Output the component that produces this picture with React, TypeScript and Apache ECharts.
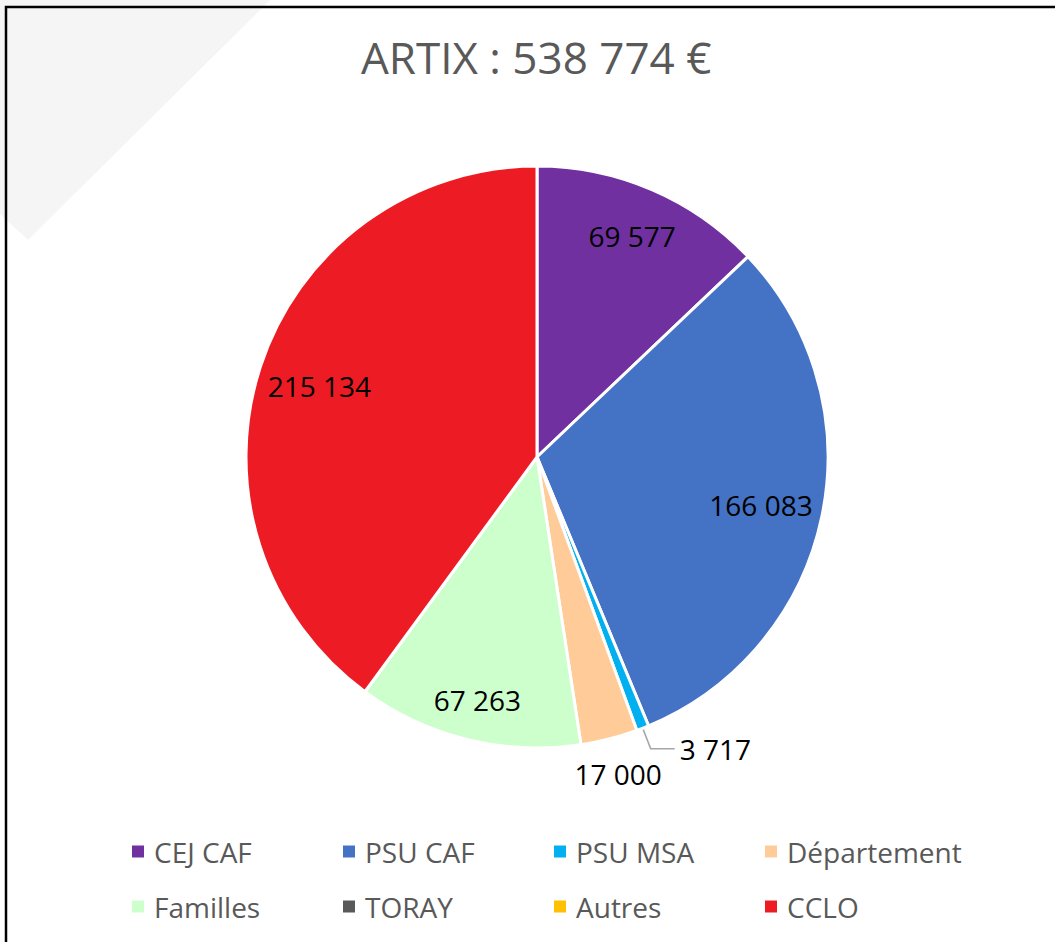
import React, { useEffect, useRef } from "react";
import * as echarts from "echarts";

const TITLE = "ARTIX : 538 774 €";
const categories = ["CEJ CAF", "PSU CAF", "PSU MSA", "Département", "Familles", "TORAY", "Autres", "CCLO"];
const values = [69577, 166083, 3717, 17000, 67263, 0, 0, 215134];
const colors = ["#7030A0", "#4472C4", "#00B0F0", "#FFCC99", "#CCFFCC", "#595959", "#FFC000", "#ED1C24"];
const insideLabelsNear = ["PSU CAF", "CCLO"];
const insideLabelsMid = ["CEJ CAF"];
const insideLabelsFar = ["Familles"];
const belowLabels = ["Département"];
const leaderLabels = ["PSU MSA"];

const FONT = "'Open Sans', 'Noto Sans', sans-serif";
const fmt = (v: number) => String(v).replace(/\B(?=(\d{3})+(?!\d))/g, " ");

const CENTER = [537, 457];
const R = 291;

export default function App() {
  const ref = useRef<HTMLDivElement>(null);
  useEffect(() => {
    if (!ref.current) return;
    const chart = echarts.init(ref.current, null, { renderer: "svg" });
    const labelStyle = { fontFamily: FONT, fontSize: 28, color: "#000000" };

    const mainData = categories.map((name, i) => ({
      name,
      value: values[i],
      itemStyle: { color: colors[i] },
      label: { show: leaderLabels.includes(name) },
      labelLine: { show: leaderLabels.includes(name) },
    }));
    const overlayData = (names: string[]) =>
      categories.map((name, i) => ({
        name,
        value: values[i],
        itemStyle: { color: "rgba(0,0,0,0)", borderWidth: 0 },
        label: { show: names.includes(name) },
      }));
    const overlay = (name: string, radius: number[], names: string[]) => ({
      type: "pie",
      name,
      center: CENTER,
      radius,
      startAngle: 90,
      clockwise: true,
      silent: true,
      avoidLabelOverlap: false,
      label: { position: "inside", formatter: (p: any) => fmt(p.value), ...labelStyle },
      labelLine: { show: false },
      emphasis: { disabled: true },
      data: overlayData(names),
    });

    chart.setOption({
      animation: false,
      backgroundColor: "#ffffff",
      title: {
        text: TITLE,
        left: 356,
        top: 30,
        textStyle: { fontFamily: FONT, fontSize: 44, fontWeight: "normal", color: "#595959" },
      },
      graphic: [
        {
          type: "polygon",
          z: -10,
          shape: { points: [[0, 0], [270, 0], [28, 240], [0, 214]] },
          style: { fill: "#F5F5F5" },
          silent: true,
        },
        {
          type: "rect",
          z: -5,
          shape: { x: 6, y: 7, width: 1100, height: 1000 },
          style: { fill: "none", stroke: "#000000", lineWidth: 2.5 },
          silent: true,
        },
      ],
      legend: {
        data: categories,
        left: 130,
        top: 834,
        width: 880,
        padding: 0,
        itemWidth: 14,
        itemHeight: 14,
        itemGap: 20,
        icon: "rect",
        selectedMode: false,
        textStyle: {
          fontFamily: FONT,
          fontSize: 28,
          color: "#595959",
          width: 167,
          lineHeight: 35,
          padding: [0, 0, 0, 4],
        },
      },
      series: [
        {
          type: "pie",
          name: "main",
          center: CENTER,
          radius: R,
          startAngle: 90,
          clockwise: true,
          avoidLabelOverlap: false,
          itemStyle: { borderColor: "#ffffff", borderWidth: 3 },
          label: {
            position: "outside",
            formatter: (p: any) => fmt(p.value),
            ...labelStyle,
          },
          labelLine: {
            length: 22,
            length2: 24,
            smooth: false,
            lineStyle: { color: "#A6A6A6", width: 1.5 },
          },
          emphasis: { disabled: true },
          data: mainData,
        },
        overlay("inside-labels-near", [160, 292], insideLabelsNear),
        overlay("inside-labels-mid", [184, 292], insideLabelsMid),
        overlay("inside-labels-far", [202, 292], insideLabelsFar),
        overlay("below-labels", [296, 352], belowLabels),
      ],
    });
    return () => chart.dispose();
  }, []);
  return (
    <div
      ref={ref}
      style={{ position: "absolute", left: 0, top: 0, width: 1055, height: 942 }}
    />
  );
}
